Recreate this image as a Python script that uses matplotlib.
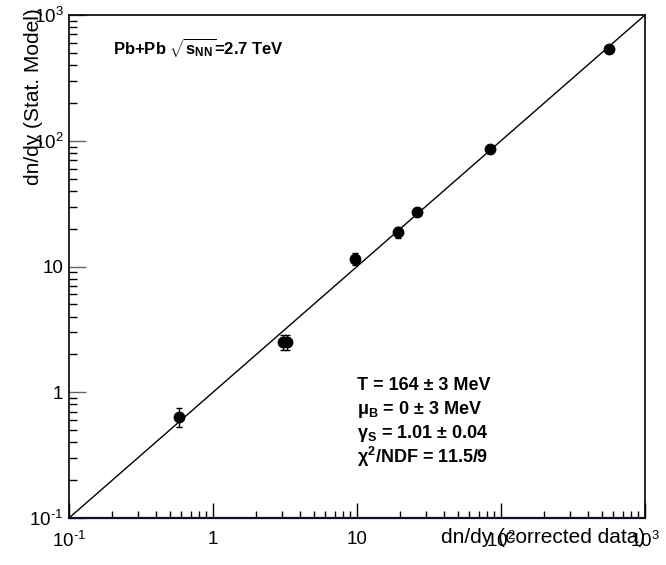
import matplotlib
matplotlib.use("Agg")
import matplotlib.pyplot as plt
from matplotlib.ticker import FixedLocator, FixedFormatter, LogLocator, NullFormatter

plt.rcParams['font.family'] = ['Liberation Sans', 'DejaVu Sans']
plt.rcParams['mathtext.fontset'] = 'custom'
plt.rcParams['mathtext.rm'] = 'Liberation Sans'
plt.rcParams['mathtext.it'] = 'Liberation Sans:italic'
plt.rcParams['mathtext.bf'] = 'Liberation Sans:bold'
plt.rcParams['axes.unicode_minus'] = False

# data: dn/dy corrected data (x) vs statistical model (y)
x_data = [0.58, 3.05, 3.25, 9.7, 19.3, 26.1, 84.0, 562.0]
y_model = [0.635, 2.5, 2.5, 11.5, 18.8, 27.1, 86.0, 537.0]
y_err = [0.11, 0.35, 0.35, 1.3, 2.0, 1.0, 2.0, 10.0]

diag = [0.1, 1000.0]
tick_vals = [0.1, 1, 10, 100, 1000]
tick_labels = [r'$10^{\text{-1}}$', '1', '10', r'$10^{2}$', r'$10^{3}$']

fig = plt.figure(figsize=(6.66, 5.65), dpi=100)
ax = fig.add_axes([69/666, 1-518/565, (645-69)/666, (518-15)/565])
ax.set_xscale('log')
ax.set_yscale('log')
ax.set_xlim(diag)
ax.set_ylim(diag)

ax.plot(diag, diag, color='black', lw=1.0, zorder=2)
ax.errorbar(x_data, y_model, yerr=y_err, fmt='o', color='black', ms=7.5,
            elinewidth=1.0, capsize=2.5, capthick=1.0, zorder=3)

for axis in (ax.xaxis, ax.yaxis):
    axis.set_major_locator(FixedLocator(tick_vals))
    axis.set_major_formatter(FixedFormatter(tick_labels))
    axis.set_minor_locator(LogLocator(base=10, subs=range(2, 10)))
    axis.set_minor_formatter(NullFormatter())

ax.tick_params(which='both', direction='in', top=False, right=False, labelsize=13.5, color='black')
ax.tick_params(axis='x', which='major', length=11, width=1.0, pad=9)
ax.tick_params(axis='x', which='minor', length=5, width=1.0)
ax.tick_params(axis='y', which='major', length=12, width=1.0, pad=4, color='#666666')
ax.tick_params(axis='y', which='minor', length=5.5, width=1.0)

for s in ('top', 'right', 'left'):
    ax.spines[s].set_linewidth(1.2)
    ax.spines[s].set_color('black')
ax.spines['bottom'].set_linewidth(1.6)
ax.spines['bottom'].set_color('#0d0d33')

ax.set_xlabel('dn/dy (corrected data)', fontsize=15, loc='right')
ax.xaxis.set_label_coords(1.0, -0.02)
ax.xaxis.label.set_va('top')
ax.set_ylabel('dn/dy (Stat. Model)', fontsize=15, loc='top')
ax.yaxis.set_label_coords(-0.045, 1.014)

ax.text(0.076, 0.936, r'Pb+Pb $\sqrt{\mathbf{s}_{\mathbf{NN}}}$=2.7 TeV', transform=ax.transAxes,
        fontsize=12, fontweight='bold', va='center', ha='left')

fit_lines = [
    'T = 164 ± 3 MeV',
    r'μ$_{\mathbf{B}}$ = 0 ± 3 MeV',
    r'γ$_{\mathbf{S}}$ = 1.01 ± 0.04',
    r'χ$^{\mathbf{2}}$/NDF = 11.5/9',
]
fit_y = [385, 410, 433, 457]
for line, py in zip(fit_lines, fit_y):
    ax.text((357-69)/576, (518-py)/503, line, transform=ax.transAxes,
            fontsize=13, fontweight='bold', va='center', ha='left')

fig.savefig('out.png', dpi=100)
